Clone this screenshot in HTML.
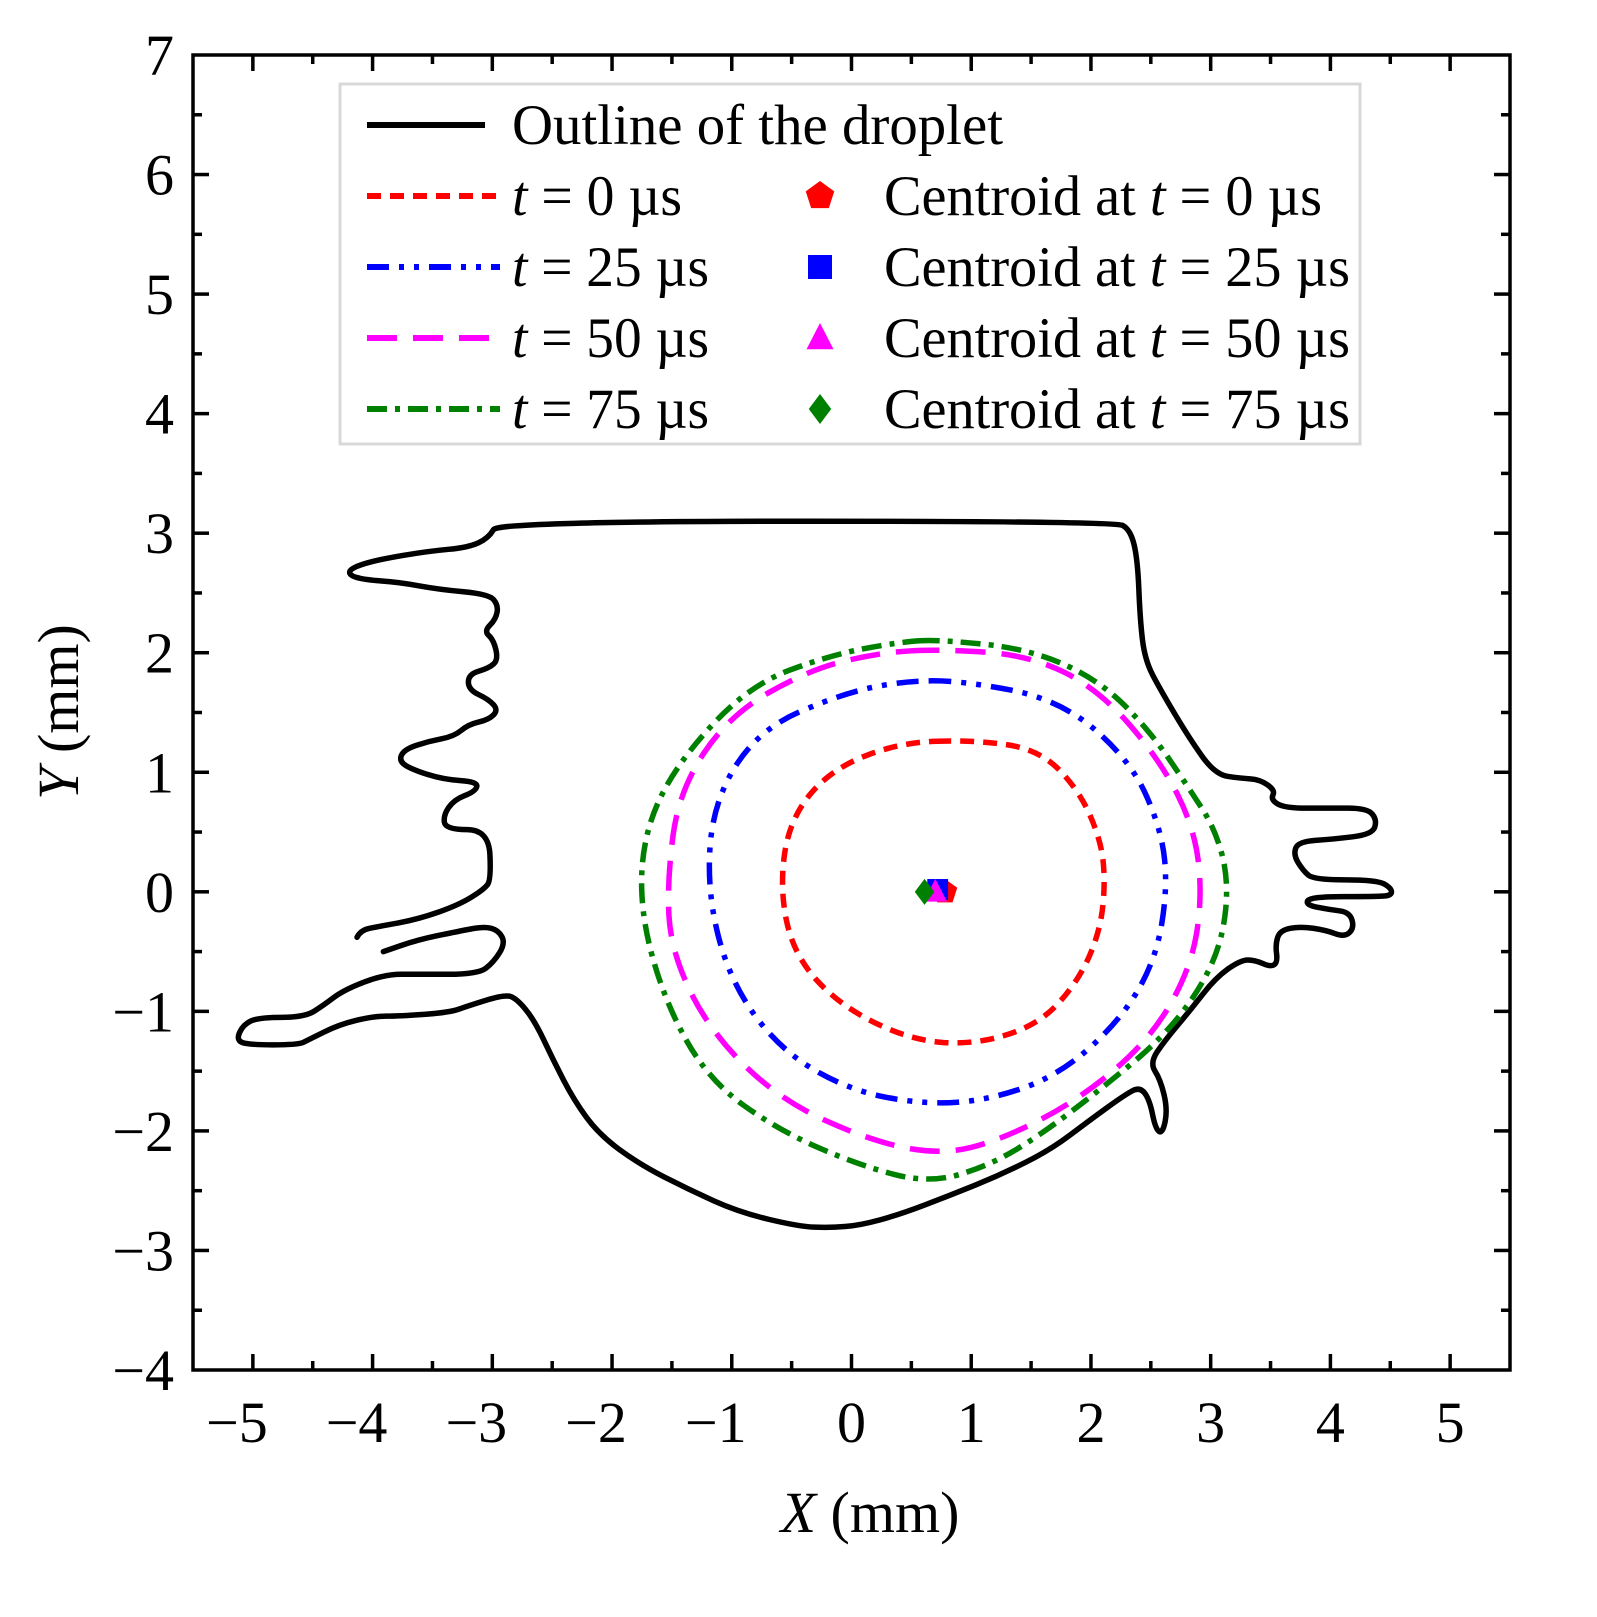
<!DOCTYPE html>
<html><head><meta charset="utf-8"><style>
html,body{margin:0;padding:0;background:#fff;}
svg{display:block;font-family:"Liberation Serif",serif;}
</style></head><body>
<svg id="chart" width="1597" height="1617" viewBox="0 0 1597 1617" xmlns="http://www.w3.org/2000/svg">
<g id="plot"></g>
</svg>
<script>
const xTicks=[-5,-4,-3,-2,-1,0,1,2,3,4,5];
const yTicks=[-4,-3,-2,-1,0,1,2,3,4,5,6,7];
const outlineX=[-4.13,-4.10,-3.95,-3.62,-3.28,-3.07,-3.01,-3.03,-3.39,-3.41,-3.32,-3.14,-3.12,-3.41,-3.66,-3.78,-3.74,-3.53,-3.32,-3.20,-3.03,-2.95,-3.03,-3.20,-3.20,-3.03,-2.95,-2.99,-3.07,-2.97,-2.95,-3.03,-3.45,-3.78,-4.07,-4.20,-4.18,-3.95,-3.53,-3.20,-3.03,-2.95,2.20,2.33,2.39,2.41,2.45,2.58,2.83,3.04,3.25,3.41,3.54,3.50,3.62,3.98,4.31,4.39,4.35,4.02,3.73,3.69,3.77,3.86,4.39,4.51,4.51,4.39,3.83,3.79,4.00,4.16,4.20,4.12,3.96,3.75,3.58,3.54,3.56,3.50,3.37,3.25,3.04,2.83,2.62,2.49,2.58,2.64,2.60,2.54,2.49,2.41,2.28,1.99,1.66,1.24,0.82,0.40,0.07,-0.18,-0.44,-0.94,-1.36,-1.77,-2.11,-2.32,-2.49,-2.65,-2.80,-2.90,-3.19,-3.36,-3.78,-3.99,-4.28,-4.54,-4.62,-5.04,-5.14,-5.08,-4.95,-4.57,-4.41,-4.24,-3.90,-3.62,-3.12,-2.99,-2.89,-2.95,-3.07,-3.28,-3.62,-3.91];
const outlineY=[-0.38,-0.32,-0.29,-0.23,-0.11,0.02,0.10,0.52,0.52,0.64,0.77,0.84,0.92,0.94,1.02,1.09,1.19,1.26,1.30,1.40,1.44,1.52,1.61,1.69,1.82,1.87,1.94,2.11,2.18,2.28,2.40,2.49,2.53,2.59,2.61,2.65,2.71,2.78,2.85,2.88,2.96,3.10,3.10,3.03,2.78,2.28,1.94,1.69,1.27,0.98,0.95,0.94,0.85,0.77,0.70,0.70,0.70,0.60,0.48,0.44,0.42,0.31,0.18,0.10,0.10,0.03,-0.03,-0.04,-0.04,-0.11,-0.15,-0.17,-0.30,-0.38,-0.32,-0.29,-0.32,-0.44,-0.59,-0.63,-0.57,-0.57,-0.72,-0.99,-1.24,-1.43,-1.57,-1.82,-2.02,-1.99,-1.74,-1.63,-1.70,-1.91,-2.16,-2.37,-2.54,-2.70,-2.79,-2.81,-2.80,-2.68,-2.49,-2.28,-2.03,-1.74,-1.41,-1.07,-0.89,-0.86,-0.95,-1.01,-1.04,-1.04,-1.11,-1.24,-1.28,-1.28,-1.24,-1.11,-1.05,-1.05,-0.95,-0.82,-0.69,-0.69,-0.69,-0.59,-0.43,-0.32,-0.29,-0.33,-0.40,-0.50];
const t0X=[1.03,1.57,1.90,2.08,2.12,2.08,1.90,1.57,1.03,0.49,-0.10,-0.48,-0.60,-0.52,-0.18,0.40];
const t0Y=[1.27,1.19,0.85,0.44,0.10,-0.32,-0.74,-1.11,-1.28,-1.24,-0.95,-0.53,0.02,0.60,1.02,1.25];
const t25X=[0.90,1.74,2.33,2.59,2.64,2.54,2.25,1.74,1.16,0.61,-0.02,-0.60,-1.02,-1.21,-1.15,-0.77,-0.10,0.40];
const t25Y=[1.77,1.61,1.10,0.52,0.02,-0.57,-1.07,-1.53,-1.74,-1.78,-1.66,-1.32,-0.74,0.02,0.77,1.36,1.65,1.76];
const t50X=[0.74,1.49,2.07,2.58,2.87,2.93,2.83,2.49,1.90,1.24,0.74,0.15,-0.60,-1.19,-1.51,-1.54,-1.44,-1.02,-0.35,0.23];
const t50Y=[2.03,1.98,1.69,1.10,0.52,-0.07,-0.65,-1.24,-1.74,-2.08,-2.20,-2.08,-1.74,-1.16,-0.49,0.10,0.85,1.48,1.86,2.00];
const t75X=[0.74,1.49,2.07,2.49,2.83,3.04,3.15,3.10,2.91,2.58,2.07,1.57,1.15,0.65,0.07,-0.60,-1.19,-1.56,-1.77,-1.73,-1.44,-0.85,-0.18,0.40];
const t75Y=[2.11,2.03,1.77,1.35,0.85,0.52,0.10,-0.40,-0.82,-1.24,-1.66,-2.04,-2.29,-2.44,-2.29,-2.00,-1.58,-0.92,-0.15,0.52,1.10,1.73,1.98,2.09];
const centroidX=[0.78,0.72,0.70,0.61];
const centroidY=[0.0,0.02,0.0,0.0];

const L=193,R=1510,T=55,B=1370,XMIN=-5.5,XMAX=5.5,YMIN=-4,YMAX=7;
const sx=v=>L+(v-XMIN)/(XMAX-XMIN)*(R-L);
const sy=v=>B-(v-YMIN)/(YMAX-YMIN)*(B-T);
const NS='http://www.w3.org/2000/svg';
const g=document.getElementById('plot');
function mk(tag,attrs,parent){const e=document.createElementNS(NS,tag);for(const k in attrs)e.setAttribute(k,attrs[k]);(parent||g).appendChild(e);return e;}
function smooth(xs,ys,closed){
  const p=xs.map((x,i)=>[sx(x),sy(ys[i])]);const n=p.length;
  const mid=(a,b)=>[(a[0]+b[0])/2,(a[1]+b[1])/2];
  let d;
  if(closed){const m0=mid(p[n-1],p[0]);d='M'+m0[0]+','+m0[1];
    for(let i=0;i<n;i++){const m=mid(p[i],p[(i+1)%n]);d+=' Q'+p[i][0]+','+p[i][1]+' '+m[0]+','+m[1];}d+='Z';}
  else{d='M'+p[0][0]+','+p[0][1];
    for(let i=1;i<n-1;i++){const m=mid(p[i],p[i+1]);d+=' Q'+p[i][0]+','+p[i][1]+' '+m[0]+','+m[1];}
    d+=' L'+p[n-1][0]+','+p[n-1][1];}
  return d;
}
let e=mk('rect',{x:L,y:T,width:R-L,height:B-T,fill:'none',stroke:'#000','stroke-width':3.5});


for(let v=-5.5;v<=5.5001;v+=0.5){const x=sx(v);const major=Math.abs(v-Math.round(v))<1e-6;const len=major?16:9;
  if(Math.abs(v)>5.49)continue;
  e=mk('line',{x1:x,y1:B,x2:x,y2:B-len,stroke:'#000','stroke-width':3.5});
  
  
  e=mk('line',{x1:x,y1:T,x2:x,y2:T+len,stroke:'#000','stroke-width':3.5});
  
  }
for(let v=-3.5;v<=6.5001;v+=0.5){const y=sy(v);const major=Math.abs(v-Math.round(v))<1e-6;const len=major?16:9;
  e=mk('line',{x1:L,y1:y,x2:L+len,y2:y,stroke:'#000','stroke-width':3.5});
  
  
  e=mk('line',{x1:R,y1:y,x2:R-len,y2:y,stroke:'#000','stroke-width':3.5});
  
  }
xTicks.forEach(v=>{e=mk('text',{x:sx(v)+(v<0?-16:0),y:1442,'text-anchor':'middle','font-size':58});e.textContent=(v<0?'\u2212':'')+Math.abs(v);
  
  });
yTicks.forEach(v=>{e=mk('text',{x:174,y:sy(v)+20,'text-anchor':'end','font-size':58});e.textContent=(v<0?'\u2212':'')+Math.abs(v);
  
  });
e=mk('text',{x:870,y:1532,'text-anchor':'middle','font-size':58});
e.innerHTML='<tspan font-style="italic">X</tspan> (mm)';


e=mk('text',{x:0,y:0,'text-anchor':'middle','font-size':58,transform:'translate(78,712) rotate(-90)'});
e.innerHTML='<tspan font-style="italic">Y</tspan> (mm)';


const styles={
 red:{c:'#ff0000',d:'14 9'},
 blue:{c:'#0000ff',d:'22 10 5 10 5 10'},
 mag:{c:'#ff00ff',d:'30 16'},
 green:{c:'#008000',d:'20 8 5 8'}};
e=mk('path',{d:smooth(outlineX,outlineY,false),fill:'none',stroke:'#000','stroke-width':5.5,'stroke-linejoin':'round','stroke-linecap':'round'});


[[t0X,t0Y,styles.red,'contour-t0'],[t25X,t25Y,styles.blue,'contour-t25'],[t50X,t50Y,styles.mag,'contour-t50'],[t75X,t75Y,styles.green,'contour-t75']].forEach(s=>{
 e=mk('path',{d:smooth(s[0],s[1],true),fill:'none',stroke:s[2].c,'stroke-width':5.5,'stroke-dasharray':s[2].d});
 
 });
function marker(kind,cx,cy,col,r){
 let el;
 if(kind==='pent'){let pts=[];for(let i=0;i<5;i++){const a=-Math.PI/2+i*2*Math.PI/5;pts.push((cx+r*Math.cos(a))+','+(cy+r*Math.sin(a)));}el=mk('polygon',{points:pts.join(' '),fill:col});}
 else if(kind==='sq'){el=mk('rect',{x:cx-r*0.8,y:cy-r*0.8,width:r*1.6,height:r*1.6,fill:col});}
 else if(kind==='tri'){el=mk('polygon',{points:`${cx},${cy-r} ${cx+r*0.9},${cy+r*0.75} ${cx-r*0.9},${cy+r*0.75}`,fill:col});}
 else {el=mk('polygon',{points:`${cx},${cy-r} ${cx+r*0.75},${cy} ${cx},${cy+r} ${cx-r*0.75},${cy}`,fill:col});}
 return el;}
const mk4=[['pent','#ff0000','centroid-t0'],['sq','#0000ff','centroid-t25'],['tri','#ff00ff','centroid-t50'],['dia','#008000','centroid-t75']];
mk4.forEach((m,i)=>{e=marker(m[0],sx(centroidX[i]),sy(centroidY[i]),m[1],13);
 
 });
const lg=mk('g',{});


e=mk('rect',{x:340,y:84,width:1020,height:360,fill:'#fff',stroke:'#d8d8d8','stroke-width':3},lg);


const rows=[125,196,267,338,409];
e=mk('line',{x1:367,y1:rows[0],x2:485,y2:rows[0],stroke:'#000','stroke-width':6},lg);


e=mk('text',{x:512,y:rows[0]+19,'font-size':57,textLength:491,lengthAdjust:'spacingAndGlyphs'},lg);
e.textContent='Outline of the droplet';


const labs=['0','25','50','75'];
[styles.red,styles.blue,styles.mag,styles.green].forEach((s,i)=>{const y=rows[i+1];
 e=mk('line',{x1:367,y1:y,x2:500,y2:y,stroke:s.c,'stroke-width':6,'stroke-dasharray':s.d},lg);
 
 
 e=mk('text',{x:512,y:y+19,'font-size':57,textLength:labs[i].length>1?197:170,lengthAdjust:'spacingAndGlyphs'},lg);
 e.innerHTML='<tspan font-style="italic">t</tspan> = '+labs[i]+' \u00b5s';
 
 
 e=marker(mk4[i][0],820,y,mk4[i][1],15);lg.appendChild(e);
 
 
 e=mk('text',{x:884,y:y+19,'font-size':57,textLength:labs[i].length>1?466:438,lengthAdjust:'spacingAndGlyphs'},lg);
 e.innerHTML='Centroid at <tspan font-style="italic">t</tspan> = '+labs[i]+' \u00b5s';
 
 });
</script>
</body></html>
